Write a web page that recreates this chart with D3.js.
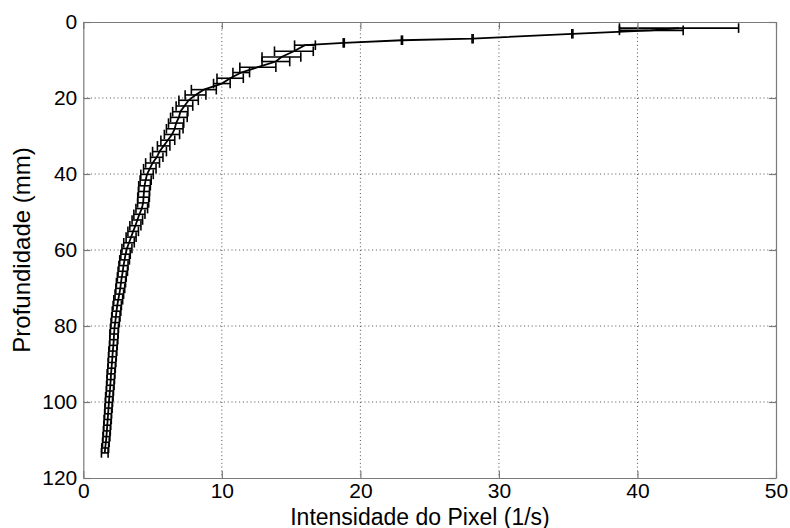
<!DOCTYPE html>
<html>
<head>
<meta charset="utf-8">
<script src="https://cdn.jsdelivr.net/npm/d3@7"></script>
<style>
  html, body { margin: 0; padding: 0; background: #fff; }
  svg { display: block; font-family: "Liberation Sans", Arial, Helvetica, sans-serif; }
</style>
</head>
<body>
<svg id="chart" width="790" height="528"></svg>
<script>
// ---- data ----
const depth = [1.6, 2.2, 3.1, 4.4, 4.8, 5.5,
  6.1, 7.7, 9.2, 10.4, 11.9, 13.3, 14.8, 16.2, 17.8, 19.2, 20.6, 22.1, 23.6, 25.1,
  26.6, 28.1, 29.6, 31.1, 32.6, 34.1, 35.6, 37.1, 38.6, 40.1, 41.6, 43.1, 44.6, 46.1,
  47.6, 49.1, 50.6, 52.1, 53.6, 55.1, 56.6, 58.1, 59.6, 61.1, 62.6, 64.1, 65.6, 67.1,
  68.6, 70.1, 71.6, 73.1, 74.6, 76.1, 77.6, 79.1, 80.6, 82.1, 83.6, 85.1, 86.6, 88.1,
  89.6, 91.1, 92.6, 94.1, 95.6, 97.1, 98.6, 100.1, 101.6, 103.1, 104.6, 106.1, 107.6,
  109.1, 110.6, 112.1, 113.4];
const intensity = [43.0, 41.0, 35.3, 28.1, 23.0, 18.8,
  16.0, 15.2, 14.3, 13.9, 12.6, 11.4, 10.6, 10.0, 8.7, 8.1, 7.6, 7.3, 7.0, 6.9,
  6.7, 6.6, 6.4, 6.1, 5.8, 5.5, 5.3, 5.0, 4.8, 4.6, 4.5, 4.42, 4.38, 4.35,
  4.32, 4.22, 4.05, 3.9, 3.76, 3.6, 3.45, 3.3, 3.15, 3.05, 2.98, 2.9, 2.85, 2.78,
  2.72, 2.67, 2.6, 2.52, 2.45, 2.4, 2.35, 2.3, 2.25, 2.22, 2.2, 2.17, 2.13, 2.1,
  2.07, 2.04, 2.0, 1.98, 1.95, 1.92, 1.88, 1.85, 1.82, 1.79, 1.76, 1.73, 1.7,
  1.67, 1.63, 1.58, 1.55];
const errorHalf = [4.3, 2.3, 0.04, 0.04, 0.04, 0.04,
  0.75, 1.4, 1.4, 1.0, 1.3, 0.6, 0.95, 0.6, 0.9, 0.75, 0.7, 0.6, 0.55, 0.6,
  0.55, 0.6, 0.55, 0.5, 0.45, 0.5, 0.45, 0.5, 0.45, 0.45, 0.4, 0.42, 0.4, 0.42,
  0.4, 0.42, 0.4, 0.38, 0.4, 0.38, 0.36, 0.38, 0.36, 0.34, 0.35, 0.33, 0.34, 0.32,
  0.33, 0.32, 0.31, 0.32, 0.3, 0.31, 0.3, 0.3, 0.29, 0.3, 0.29, 0.28, 0.29, 0.28,
  0.28, 0.27, 0.28, 0.27, 0.27, 0.26, 0.27, 0.26, 0.26, 0.25, 0.26, 0.25, 0.25,
  0.25, 0.24, 0.25, 0.24];
const xTicks = [0, 10, 20, 30, 40, 50];
const yTicks = [0, 20, 40, 60, 80, 100, 120];
const xLabel = "Intensidade do Pixel (1/s)";
const yLabel = "Profundidade (mm)";

const points = depth.map((d, i) => ({ d, v: intensity[i], e: errorHalf[i] }));

// ---- layout ----
const L = 83.3, R = 776, T = 22, B = 478;
const svg = d3.select("#chart");
const x = d3.scaleLinear().domain([0, 50]).range([L, R]);
const y = d3.scaleLinear().domain([0, 120]).range([T, B]);

// grid
const grid = svg.append("g").attr("stroke", "#222").attr("stroke-width", 0.8)
  .attr("stroke-dasharray", "1,2.8");
grid.selectAll("line.gx").data(xTicks.slice(1, -1)).join("line")
  .attr("x1", d => x(d)).attr("x2", d => x(d)).attr("y1", T).attr("y2", B);
grid.selectAll("line.gy").data(yTicks.slice(1, -1)).join("line")
  .attr("x1", L).attr("x2", R).attr("y1", d => y(d)).attr("y2", d => y(d));

// error bars
const cap = 4.8;
const eb = svg.append("g").attr("stroke", "#000").attr("stroke-width", 1.6).attr("fill", "none");
const ebg = eb.selectAll("g").data(points).join("g");
ebg.append("line")
  .attr("x1", p => x(p.v - p.e)).attr("x2", p => x(p.v + p.e))
  .attr("y1", p => y(p.d)).attr("y2", p => y(p.d));
ebg.append("line")
  .attr("x1", p => x(p.v - p.e)).attr("x2", p => x(p.v - p.e))
  .attr("y1", p => y(p.d) - cap).attr("y2", p => y(p.d) + cap);
ebg.append("line")
  .attr("x1", p => x(p.v + p.e)).attr("x2", p => x(p.v + p.e))
  .attr("y1", p => y(p.d) - cap).attr("y2", p => y(p.d) + cap);

// connecting line
svg.append("path").datum(points)
  .attr("fill", "none").attr("stroke", "#000").attr("stroke-width", 1.8)
  .attr("d", d3.line().x(p => x(p.v)).y(p => y(p.d)));

// axes
const fs = 21;
const axColor = "#7a7a7a";
function style(g) {
  g.select(".domain").attr("stroke", axColor).attr("stroke-width", 1.2);
  g.selectAll(".tick line").attr("stroke", axColor).attr("stroke-width", 1.2);
  g.selectAll(".tick text").attr("fill", "#000").attr("font-size", fs)
    .attr("font-family", "'Liberation Sans', Arial, sans-serif");
}
svg.append("g").attr("transform", `translate(0,${B})`)
  .call(d3.axisBottom(x).tickValues(xTicks).tickSize(-7).tickSizeOuter(0).tickPadding(5))
  .call(style);
svg.append("g").attr("transform", `translate(0,${T})`)
  .call(d3.axisTop(x).tickValues(xTicks).tickSize(-7).tickSizeOuter(0).tickFormat(""))
  .call(style);
svg.append("g").attr("transform", `translate(${L},0)`)
  .call(d3.axisLeft(y).tickValues(yTicks).tickSize(-7).tickSizeOuter(0).tickPadding(6))
  .call(style);
svg.append("g").attr("transform", `translate(${R},0)`)
  .call(d3.axisRight(y).tickValues(yTicks).tickSize(-7).tickSizeOuter(0).tickFormat(""))
  .call(style);

// labels
svg.append("text").attr("x", 420).attr("y", 524.5).attr("text-anchor", "middle")
  .attr("font-size", 23).attr("fill", "#000").text(xLabel);
svg.append("text").attr("transform", `translate(30,${(T + B) / 2}) rotate(-90)`)
  .attr("text-anchor", "middle").attr("font-size", 24).attr("fill", "#000").text(yLabel);
</script>
</body>
</html>
